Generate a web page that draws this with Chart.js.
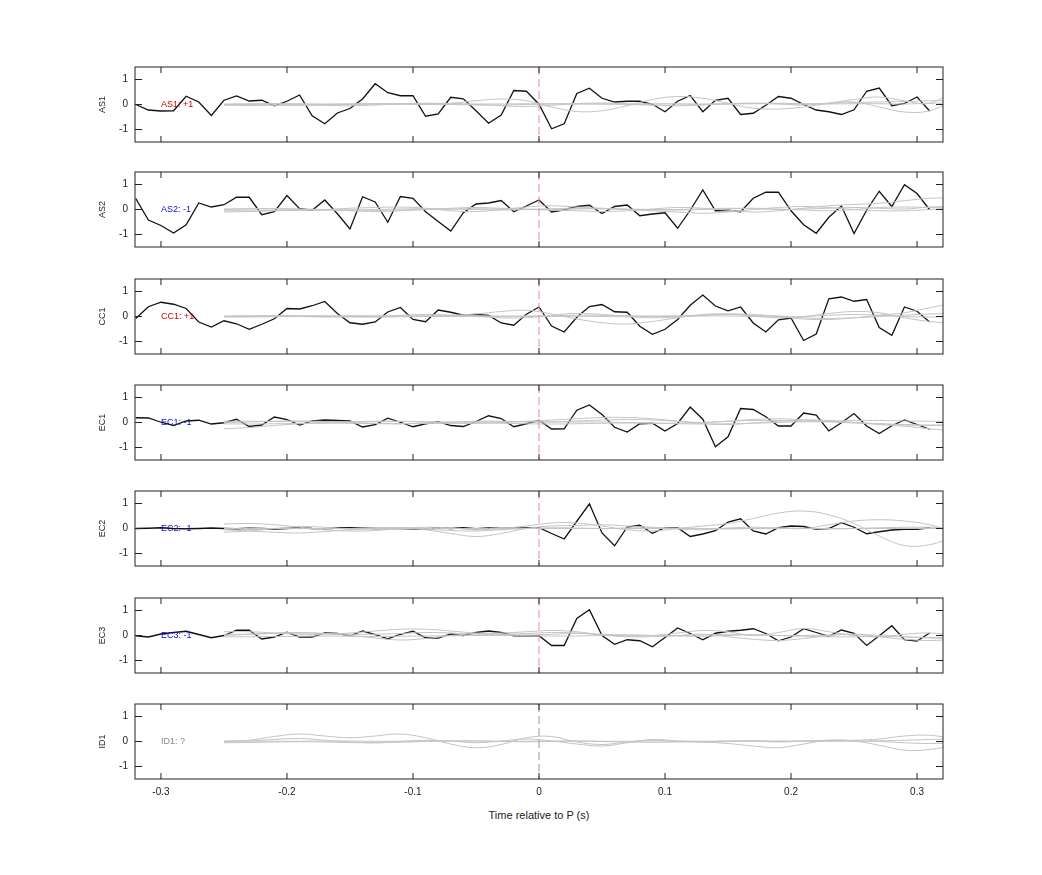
<!DOCTYPE html>
<html>
<head>
<meta charset="utf-8">
<script src="https://cdn.jsdelivr.net/npm/chart.js@4/dist/chart.umd.min.js"></script>
<style>
  body { margin: 0; background: #fff; width: 1042px; height: 875px; position: relative; font-family: "Liberation Sans", Arial, sans-serif; }
  .box { position: absolute; left: 0; width: 1042px; }
  #xtitle { position: absolute; top: 809px; left: 0; width: 1078px; text-align: center; font-size: 11px; color: #222; }
</style>
</head>
<body>
<div id="charts"></div>
<div id="xtitle">Time relative to P (s)</div>
<script>
// panel names and their labels
var panelNames = ["AS1", "AS2", "CC1", "EC1", "EC2", "EC3", "ID1"];
var panelLabels = ["AS1: +1", "AS2: -1", "CC1: +1", "EC1: -1", "EC2: -1", "EC3: -1", "ID1: ?"];
var labelColors = ["#d40000", "#1010d0", "#d40000", "#1010d0", "#1010d0", "#1010d0", "#888888"];
var panelTops = [67, 172, 279, 385, 491, 598, 704];
var xTicks = [-0.3, -0.2, -0.1, 0, 0.1, 0.2, 0.3];
var yTicks = [-1, 0, 1];

// black traces, one sample every 0.01 s starting at -0.32 s
var blackStart = -0.32;
var blackStep = 0.01;
var as1 = [0, -0.22, -0.26, -0.25, 0.33, 0.1, -0.44, 0.17, 0.34, 0.14, 0.17, -0.05, 0.13, 0.38, -0.45, -0.77, -0.34, -0.16, 0.22, 0.83, 0.47, 0.35, 0.35, -0.47, -0.38, 0.29, 0.23, -0.25, -0.75, -0.42, 0.56, 0.53, 0.01, -0.97, -0.77, 0.44, 0.65, 0.25, 0.1, 0.13, 0.13, 0.01, -0.29, 0.13, 0.36, -0.29, 0.17, 0.25, -0.4, -0.35, -0.03, 0.32, 0.25, 0, -0.22, -0.29, -0.4, -0.21, 0.53, 0.66, -0.05, 0.04, 0.3, -0.26];
var as2 = [0.44, -0.42, -0.64, -0.94, -0.61, 0.26, 0.1, 0.19, 0.49, 0.49, -0.21, -0.09, 0.56, 0.03, -0.03, 0.38, -0.17, -0.78, 0.51, 0.3, -0.51, 0.52, 0.45, -0.09, -0.48, -0.86, -0.13, 0.22, 0.26, 0.36, -0.09, 0.14, 0.38, -0.1, -0.01, 0.12, 0.17, -0.16, 0.12, 0.18, -0.25, -0.18, -0.13, -0.75, -0.03, 0.78, -0.05, -0.03, -0.09, 0.45, 0.69, 0.69, -0.05, -0.61, -0.95, -0.31, 0.14, -0.96, -0.03, 0.73, 0.12, 0.99, 0.64, -0.01];
var cc1 = [-0.08, 0.39, 0.57, 0.49, 0.32, -0.22, -0.42, -0.17, -0.29, -0.51, -0.31, -0.09, 0.32, 0.3, 0.43, 0.6, 0.12, -0.25, -0.31, -0.22, 0.18, 0.36, -0.12, -0.21, 0.26, 0.17, 0.05, 0.08, 0.04, -0.26, -0.35, 0.09, 0.38, -0.38, -0.62, -0.03, 0.4, 0.48, 0.19, 0.17, -0.39, -0.71, -0.51, -0.12, 0.45, 0.86, 0.42, 0.23, 0.38, -0.26, -0.62, -0.13, -0.06, -0.96, -0.7, 0.71, 0.78, 0.61, 0.68, -0.44, -0.75, 0.38, 0.21, -0.22];
var ec1 = [0.19, 0.18, 0.01, -0.12, 0.06, 0.09, -0.06, -0.01, 0.13, -0.16, -0.1, 0.22, 0.12, -0.1, 0.06, 0.1, 0.08, 0.06, -0.18, -0.09, 0.17, 0.01, -0.17, -0.05, 0.03, -0.12, -0.16, 0.04, 0.27, 0.16, -0.17, -0.05, 0.09, -0.26, -0.25, 0.49, 0.7, 0.32, -0.19, -0.38, -0.05, -0.03, -0.34, -0.04, 0.62, 0.13, -0.97, -0.57, 0.56, 0.52, 0.23, -0.14, -0.14, 0.38, 0.3, -0.34, -0.01, 0.36, -0.14, -0.44, -0.13, 0.1, -0.08, -0.27];
var ec2 = [0, 0.01, 0.03, 0, -0.01, 0, 0.02, 0, -0.01, 0.01, 0, -0.02, 0, 0.03, 0, -0.01, 0.02, 0.03, 0.01, 0, 0, 0, -0.01, -0.02, 0.03, 0, 0.03, -0.01, 0.02, 0, 0.01, 0.02, 0.03, -0.2, -0.42, 0.29, 0.99, -0.18, -0.69, 0.06, 0.13, -0.19, 0.03, 0.03, -0.32, -0.22, -0.09, 0.26, 0.39, -0.1, -0.22, 0.03, 0.1, 0.08, -0.03, 0, 0.23, 0.05, -0.21, -0.13, -0.06, -0.03, -0.03, 0.03];
var ec3 = [-0.01, -0.06, 0.06, 0.12, 0.17, 0.04, -0.09, 0, 0.21, 0.21, -0.14, -0.06, 0.13, -0.06, -0.06, 0.1, 0.08, -0.01, 0.18, 0.04, -0.13, 0.05, 0.17, -0.09, -0.1, 0.06, 0, 0.12, 0.18, 0.12, -0.01, -0.01, -0.01, -0.4, -0.4, 0.68, 1.03, 0, -0.35, -0.17, -0.21, -0.45, -0.08, 0.3, 0.08, -0.17, 0.09, 0.17, 0.21, 0.27, 0.08, -0.21, -0.06, 0.27, 0.12, -0.03, 0.22, 0.09, -0.4, -0.01, 0.39, -0.17, -0.22, 0.1];
var blackTraces = [as1, as2, cc1, ec1, ec2, ec3, null];

// grey traces, one sample every 0.02 s starting at -0.25 s
var greyStart = -0.25;
var greyStep = 0.02;
var greyTraces = [
  [
    [0, 0, -0.02, -0.03, 0, 0.02, 0.03, 0.02, 0, 0.05, 0.15, 0.22, 0.15, -0.1, -0.28, -0.25, -0.05, 0.2, 0.32, 0.25, 0.05, -0.15, -0.18, -0.1, 0.05, 0.2, 0.3, 0.15, 0.05, 0.6],
    [0, 0.02, 0.03, 0, -0.03, -0.05, -0.02, 0.02, 0.05, 0.03, 0, -0.05, -0.08, -0.03, 0.03, 0.06, 0.03, -0.02, -0.05, -0.02, 0.03, 0.05, 0.02, -0.02, 0.05, 0.1, -0.1, -0.3, -0.25, 0.2],
    [-0.03, -0.04, -0.03, -0.02, -0.02, 0, 0.02, 0.03, 0.02, 0, -0.02, -0.02, 0, 0.02, 0.03, 0.02, 0, -0.02, -0.02, 0, 0.03, 0.05, 0.05, 0.03, 0.05, 0.08, 0.1, 0.12, 0.15, 0.15],
    [0.02, 0.02, 0.03, 0.03, 0.02, 0.02, 0.02, 0.02, 0.03, 0.03, 0.02, 0.02, 0.03, 0.03, 0.02, 0.02, 0.02, 0.03, 0.03, 0.02, 0.02, 0.03, 0.03, 0.02, 0.02, 0.03, 0.03, 0.02, 0.05, 0.05]
  ],
  [
    [0, 0.02, 0.04, 0.02, 0, -0.05, -0.08, -0.05, 0, 0.05, 0.08, 0.05, 0.02, -0.03, -0.05, -0.08, -0.05, 0.02, 0.08, 0.05, -0.03, -0.1, -0.05, 0.05, 0.15, 0.2, 0.25, 0.35, 0.45, 0.45],
    [-0.1, -0.08, -0.05, -0.03, 0, 0.05, 0.08, 0.1, 0.05, -0.05, -0.08, 0, 0.1, 0.15, 0.1, 0.05, 0, -0.05, -0.1, -0.15, -0.1, 0, 0.08, 0.12, 0.08, 0, -0.05, -0.05, 0, 0.05],
    [0.02, 0.03, 0.02, 0, -0.02, -0.02, 0, 0.02, 0.03, 0.02, 0, -0.02, 0, 0.03, 0.05, 0.03, 0, -0.02, 0, 0.02, 0.05, 0.03, 0, 0.02, 0.05, 0.08, 0.05, 0.02, 0.1, 0.12],
    [-0.05, -0.05, -0.04, -0.03, -0.02, -0.02, -0.03, -0.02, 0, 0.02, 0.03, 0.02, 0, 0, 0.02, 0.03, 0.02, 0, -0.02, 0, 0.03, 0.05, 0.02, -0.02, -0.05, 0, 0.08, 0.1, 0.08, 0.05]
  ],
  [
    [0, 0, 0.02, 0.03, 0.02, 0, -0.02, 0, 0.02, 0.05, 0.1, 0.2, 0.25, 0.1, -0.1, -0.25, -0.3, -0.2, -0.05, 0.08, 0.1, 0.02, -0.05, 0, 0.12, 0.2, 0.15, -0.05, -0.2, -0.28],
    [0, 0.02, 0.02, 0, -0.02, -0.02, 0, 0.05, 0.08, 0.05, 0, -0.05, -0.05, 0.05, 0.12, 0.08, 0, -0.05, -0.02, 0.05, 0.1, 0.08, 0, -0.1, -0.12, -0.05, 0.05, 0.15, 0.35, 0.55],
    [0.02, 0.03, 0.03, 0.02, 0.02, 0.03, 0.03, 0.02, 0.02, 0.03, 0.03, 0.02, 0.02, 0.03, 0.05, 0.05, 0.03, 0.02, 0.03, 0.05, 0.08, 0.05, 0.02, -0.05, -0.08, -0.05, 0, 0.05, 0.1, 0.12],
    [-0.02, -0.02, -0.01, 0, 0, 0, -0.01, -0.01, 0, 0, 0, -0.01, 0, 0, 0.01, 0, -0.01, 0, 0, 0.02, 0.02, 0, -0.02, 0, 0.05, 0.08, 0.05, 0, -0.02, 0]
  ],
  [
    [-0.25, -0.2, -0.12, -0.05, 0, 0.03, 0.05, 0.05, 0.02, -0.02, -0.03, 0, 0.05, 0.1, 0.15, 0.2, 0.2, 0.15, 0.05, -0.05, -0.08, -0.02, 0.05, 0.1, 0.08, 0, -0.08, -0.15, -0.25, -0.35],
    [0, 0.02, 0.05, 0.06, 0.04, 0, -0.04, -0.05, -0.02, 0.02, 0.05, 0.05, 0.02, 0.02, 0.06, 0.1, 0.12, 0.1, 0.05, 0, 0.05, 0.12, 0.15, 0.1, 0.05, 0, -0.05, -0.1, -0.12, -0.1],
    [0.05, 0.05, 0.04, 0.03, 0.02, 0.02, 0.03, 0.04, 0.03, 0.02, 0.02, 0.03, 0.04, 0.03, 0.02, 0.02, 0, -0.02, -0.03, 0, 0.05, 0.08, 0.08, 0.05, 0.05, 0.08, 0.08, 0.06, 0.05, 0.05],
    [-0.05, -0.06, -0.05, -0.04, -0.03, -0.03, -0.04, -0.05, -0.04, -0.03, -0.02, -0.03, -0.05, -0.06, -0.05, -0.03, -0.02, -0.03, -0.05, -0.06, -0.05, -0.03, 0, 0.03, 0.02, -0.02, -0.05, -0.08, -0.1, -0.1]
  ],
  [
    [0.18, 0.2, 0.15, 0.05, -0.05, -0.1, -0.08, 0, 0.05, 0.02, -0.05, 0, 0.1, 0.22, 0.22, 0.1, -0.05, -0.1, 0, 0.1, 0.2, 0.4, 0.62, 0.7, 0.55, 0.2, -0.3, -0.68, -0.65, -0.3],
    [-0.15, -0.1, 0, 0.08, 0.05, -0.02, 0, 0.03, -0.05, -0.2, -0.32, -0.2, 0, 0.1, 0.12, 0.15, 0.1, 0.05, -0.02, -0.05, 0.02, 0.05, 0.02, 0, 0.15, 0.3, 0.35, 0.3, 0.15, -0.15],
    [-0.05, -0.1, -0.15, -0.18, -0.12, -0.05, 0, 0.02, -0.02, -0.08, -0.1, -0.05, 0, 0.03, 0.02, 0, 0.02, 0.03, 0.02, 0, -0.02, 0, 0.02, 0, -0.02, 0, 0.03, 0.05, 0.05, 0.02],
    [0, 0, 0, 0, 0, 0, 0, 0, 0, 0, 0, 0, 0, 0, 0, 0, 0, 0, 0, 0, 0, 0, 0, 0, 0, 0, 0, 0, 0, 0]
  ],
  [
    [0.15, 0.15, 0.1, 0.05, 0.05, 0.1, 0.18, 0.25, 0.25, 0.18, 0.1, 0.1, 0.15, 0.2, 0.15, 0.02, -0.05, -0.05, 0, 0.05, -0.05, -0.15, -0.2, -0.12, 0, 0.05, -0.05, -0.15, -0.2, -0.15],
    [0, 0.05, 0.1, 0.12, 0.08, 0, -0.1, -0.18, -0.12, 0, 0.08, 0.05, 0.02, 0.05, 0.08, 0.03, -0.02, 0, 0.1, 0.2, 0.15, 0, 0.12, 0.28, 0.15, 0, -0.05, 0.05, 0.1, 0],
    [0.05, 0.05, 0.08, 0.1, 0.08, 0.05, 0.05, 0.08, 0.12, 0.1, 0.05, 0.05, 0.08, 0.12, 0.1, 0.05, 0.02, 0, 0, 0.02, 0.05, 0.02, 0, 0, 0.02, 0.05, 0, -0.05, -0.08, -0.05],
    [-0.05, -0.05, -0.04, -0.03, -0.02, -0.03, -0.04, -0.03, -0.02, -0.01, 0, 0, -0.01, -0.02, -0.02, 0, 0.02, 0, -0.02, -0.03, 0, 0.03, 0, -0.03, -0.05, -0.05, -0.03, -0.05, -0.1, -0.12]
  ],
  [
    [0, 0.05, 0.2, 0.3, 0.22, 0.15, 0.22, 0.3, 0.15, -0.1, -0.25, -0.12, 0.15, 0.2, -0.02, -0.12, -0.02, 0.05, 0, -0.02, -0.08, -0.18, -0.25, -0.1, 0.05, 0.02, -0.15, -0.35, -0.32, -0.15],
    [0, 0.02, 0.08, 0.12, 0.05, -0.02, -0.05, 0, 0.05, 0.02, -0.05, 0.02, 0.1, 0.02, -0.1, -0.18, -0.05, 0.08, 0.02, -0.02, 0, 0.02, -0.02, 0.02, 0.05, 0.05, 0.1, 0.22, 0.25, 0.1],
    [-0.05, -0.04, -0.02, -0.01, -0.02, -0.04, -0.05, -0.03, 0, 0.02, 0.02, 0, -0.01, 0, 0.02, 0, -0.02, -0.03, -0.02, 0, 0.02, 0.02, 0, 0.02, 0.03, 0.02, 0, -0.05, -0.08, -0.05],
    [0.02, 0.02, 0.01, 0.01, 0.02, 0.02, 0.01, 0.01, 0.02, 0.02, 0.02, 0.01, 0.01, 0.02, 0.02, 0.01, 0.01, 0.02, 0.02, 0.01, 0.01, 0.02, 0.02, 0.01, 0.01, 0.02, 0.03, 0.05, 0.08, 0.1]
  ]
];

var xMin = -0.3206, xMax = 0.3206;
var fontFamily = "'Liberation Sans', Arial, sans-serif";

function toPoints(values, start, step) {
  return values.map(function (v, i) { return { x: start + i * step, y: v }; });
}

// matlab style box, inward ticks, tick labels, dashed line at t = 0
var boxPlugin = {
  id: "boxPlugin",
  afterDatasetsDraw: function (chart, args, opts) {
    var ctx = chart.ctx, a = chart.chartArea;
    var xs = chart.scales.x, ys = chart.scales.y;
    ctx.save();
    ctx.beginPath();
    ctx.rect(a.left, a.top, a.right - a.left, a.bottom - a.top);
    ctx.clip();
    var x0 = xs.getPixelForValue(0);
    ctx.strokeStyle = opts.zeroColor;
    ctx.lineWidth = 1;
    ctx.setLineDash([8, 4]);
    ctx.beginPath();
    ctx.moveTo(x0, a.top);
    ctx.lineTo(x0, a.bottom);
    ctx.stroke();
    ctx.restore();

    ctx.save();
    ctx.strokeStyle = "#222";
    ctx.lineWidth = 1;
    ctx.strokeRect(a.left, a.top, a.right - a.left, a.bottom - a.top);
    ctx.beginPath();
    xTicks.forEach(function (t) {
      var px = xs.getPixelForValue(t);
      ctx.moveTo(px, a.top); ctx.lineTo(px, a.top + 6);
      ctx.moveTo(px, a.bottom); ctx.lineTo(px, a.bottom - 6);
    });
    yTicks.forEach(function (v) {
      var py = ys.getPixelForValue(v);
      ctx.moveTo(a.left, py); ctx.lineTo(a.left + 7, py);
      ctx.moveTo(a.right, py); ctx.lineTo(a.right - 7, py);
    });
    ctx.stroke();

    ctx.fillStyle = "#222";
    ctx.font = "10px " + fontFamily;
    ctx.textBaseline = "middle";
    ctx.textAlign = "right";
    yTicks.forEach(function (v) {
      ctx.fillText(String(v), a.left - 7, ys.getPixelForValue(v));
    });
    if (opts.showX) {
      ctx.textAlign = "center";
      ctx.textBaseline = "top";
      xTicks.forEach(function (t) {
        ctx.fillText(String(t), xs.getPixelForValue(t), a.bottom + 8);
      });
    }
    // y title
    ctx.save();
    ctx.translate(a.left - 32, ys.getPixelForValue(0));
    ctx.rotate(-Math.PI / 2);
    ctx.textAlign = "center";
    ctx.textBaseline = "middle";
    ctx.font = "9px " + fontFamily;
    ctx.fillText(opts.name, 0, 0);
    ctx.restore();
    // panel label
    ctx.fillStyle = opts.labelColor;
    ctx.font = "9px " + fontFamily;
    ctx.textAlign = "left";
    ctx.textBaseline = "middle";
    ctx.fillText(opts.label, xs.getPixelForValue(-0.3), ys.getPixelForValue(0));
    ctx.restore();
  }
};

var holder = document.getElementById("charts");
panelNames.forEach(function (name, p) {
  var last = p === panelNames.length - 1;
  var div = document.createElement("div");
  div.className = "box";
  div.style.top = (panelTops[p] - 5) + "px";
  div.style.height = (last ? 105 : 85) + "px";
  var canvas = document.createElement("canvas");
  div.appendChild(canvas);
  holder.appendChild(div);

  var datasets = [];
  greyTraces[p].forEach(function (g) {
    datasets.push({
      data: toPoints(g, greyStart, greyStep),
      borderColor: "#c4c4c4",
      borderWidth: 1,
      pointRadius: 0,
      tension: 0.4
    });
  });
  if (blackTraces[p]) {
    datasets.push({
      data: toPoints(blackTraces[p], blackStart, blackStep),
      borderColor: "#111",
      borderWidth: 1.3,
      pointRadius: 0,
      tension: 0
    });
  }

  new Chart(canvas, {
    type: "line",
    data: { datasets: datasets },
    options: {
      responsive: true,
      maintainAspectRatio: false,
      animation: false,
      layout: { padding: { top: 5, right: 99, bottom: last ? 25 : 5, left: 135 } },
      plugins: {
        legend: { display: false },
        tooltip: { enabled: false },
        boxPlugin: { name: name, label: panelLabels[p], labelColor: labelColors[p], zeroColor: last ? "#999" : "#f08a8a", showX: last }
      },
      scales: {
        x: { type: "linear", min: xMin, max: xMax, display: false },
        y: { min: -1.5, max: 1.5, display: false }
      }
    },
    plugins: [boxPlugin]
  });
});
</script>
</body>
</html>
